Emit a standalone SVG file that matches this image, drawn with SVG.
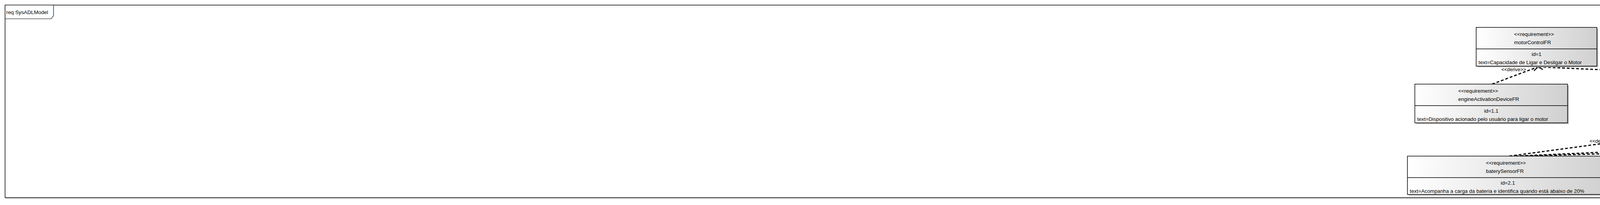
<svg xmlns="http://www.w3.org/2000/svg" width="7787" height="524" viewBox="0 0 7787 524">
<style>
.t{font-family:"Liberation Sans",Arial,sans-serif;font-size:13.3px;fill:#000}
.c{text-anchor:middle}
.box{fill:url(#grad);stroke:#000;stroke-width:1.5}
.sh{fill:#b8b8b8}
.div{stroke:#000;stroke-width:1.5}
.conn{fill:none;stroke:#000;stroke-width:3;stroke-dasharray:7 5}
.lbl{font-family:"Liberation Sans",Arial,sans-serif;font-size:12.5px;fill:#000;text-anchor:middle}
</style>
<defs>
<linearGradient id="grad" x1="0" y1="0" x2="1" y2="0">
<stop offset="0" stop-color="#ffffff"/>
<stop offset="1" stop-color="#d0d0d0"/>
</linearGradient>
<marker id="arr" viewBox="-14 -8 16 16" refX="0" refY="0" markerWidth="16" markerHeight="16" orient="auto" markerUnits="userSpaceOnUse">
<path d="M-13,-6 L0,0 L-13,6" fill="none" stroke="#000" stroke-width="2.5" stroke-dasharray="none"/>
</marker>
</defs>
<rect width="7787" height="524" fill="#fff"/>
<g id="frame">
<rect x="15.5" y="15.5" width="7757" height="492" fill="none" stroke="#c0c0c0" stroke-width="2"/>
<rect x="13" y="13" width="7757" height="492" fill="#fff" stroke="#000" stroke-width="1.5"/>
<path d="M13,13 H137 V40 L131,48 H13 Z" fill="#fff" stroke="#000" stroke-width="1.2"/>
<text class="t" x="16" y="36">req SysADLModel</text>
<rect x="7749" y="20" width="18" height="454" fill="#dcdcdc"/>
<path d="M7749,20 L7767,37 M7767,20 L7749,37" stroke="#c8c8c8" stroke-width="1"/>
<rect x="7749" y="484" width="18" height="18" fill="#dcdcdc"/>
<path d="M7749,484 L7767,502 M7767,484 L7749,502" stroke="#c4c4c4" stroke-width="1"/>
</g>
<g id="connectors">
<path class="conn" d="M3820,215 L3937,171" marker-end="url(#arr)"/>
<path class="conn" d="M5133,224 L3937,171" marker-end="url(#arr)"/>
<path class="conn" d="M3864,399 L4429,323" marker-end="url(#arr)"/>
<path class="conn" d="M4477,399 L4429,323" marker-end="url(#arr)"/>
<path class="conn" d="M5170,399 L4429,323" marker-end="url(#arr)"/>
<path class="conn" d="M4500,399 L5132,323" marker-end="url(#arr)"/>
<path class="conn" d="M5176,399 L5132,323" marker-end="url(#arr)"/>
<path class="conn" d="M3880,399 L5769,314" marker-end="url(#arr)"/>
<path class="conn" d="M4525,399 L5769,314" marker-end="url(#arr)"/>
<path class="conn" d="M5190,399 L5769,314" marker-end="url(#arr)"/>
<path class="conn" d="M6065,399 L5769,314" marker-end="url(#arr)"/>
<path class="conn" d="M6615,399 L5769,314" marker-end="url(#arr)"/>
<path class="conn" d="M3895,399 L6338,330" marker-end="url(#arr)"/>
<path class="conn" d="M4550,399 L6338,330" marker-end="url(#arr)"/>
<path class="conn" d="M5205,399 L6338,330" marker-end="url(#arr)"/>
<path class="conn" d="M6625,399 L6338,330" marker-end="url(#arr)"/>
<text class="lbl" x="3875" y="182">&lt;&lt;derive&gt;&gt;</text>
<text class="lbl" x="4529" y="215">&lt;&lt;derive&gt;&gt;</text>
<text class="lbl" x="4101" y="365">&lt;&lt;derive&gt;&gt;</text>
<text class="lbl" x="4445" y="381">&lt;&lt;derive&gt;&gt;</text>
<text class="lbl" x="4797" y="381">&lt;&lt;derive&gt;&gt;</text>
<text class="lbl" x="4812" y="346">&lt;&lt;derive&gt;&gt;</text>
<text class="lbl" x="4778" y="355">&lt;&lt;derive&gt;&gt;</text>
<text class="lbl" x="5147" y="381">&lt;&lt;derive&gt;&gt;</text>
<text class="lbl" x="5113" y="346">&lt;&lt;derive&gt;&gt;</text>
<text class="lbl" x="5400" y="352">&lt;&lt;derive&gt;&gt;</text>
<text class="lbl" x="5445" y="351">&lt;&lt;derive&gt;&gt;</text>
<text class="lbl" x="5745" y="352">&lt;&lt;derive&gt;&gt;</text>
<text class="lbl" x="5920" y="372">&lt;&lt;derive&gt;&gt;</text>
<text class="lbl" x="6190" y="371">&lt;&lt;derive&gt;&gt;</text>
<text class="lbl" x="6463" y="372">&lt;&lt;derive&gt;&gt;</text>
</g>
<g id="motorControlFR">
<rect class="sh" x="3782" y="73" width="309" height="99"/>
<rect class="box" x="3779" y="70" width="309" height="99"/>
<line class="div" x1="3779" y1="125" x2="4088" y2="125"/>
<text class="t" x="3876" y="92">&lt;&lt;requirement&gt;&gt;</text>
<text class="t" x="3876" y="113">motorControlFR</text>
<text class="t c" x="3933.5" y="143">id=1</text>
<text class="t" x="3785" y="164">text=Capacidade de Ligar e Desligar o Motor</text>
</g>
<g id="engineActivationDeviceFR">
<rect class="sh" x="3625" y="218" width="391" height="99"/>
<rect class="box" x="3622" y="215" width="391" height="99"/>
<line class="div" x1="3622" y1="270" x2="4013" y2="270"/>
<text class="t" x="3733" y="237">&lt;&lt;requirement&gt;&gt;</text>
<text class="t" x="3733" y="258">engineActivationDeviceFR</text>
<text class="t c" x="3817.5" y="288">id=1.1</text>
<text class="t" x="3628" y="309">text=Dispositivo acionado pelo usuário para ligar o motor</text>
</g>
<g id="sensorPerformanceNFR">
<rect class="sh" x="4120" y="227" width="618" height="99"/>
<rect class="box" x="4117" y="224" width="618" height="99"/>
<line class="div" x1="4117" y1="279" x2="4735" y2="279"/>
<text class="t" x="4349" y="246">&lt;&lt;requirement&gt;&gt;</text>
<text class="t" x="4349" y="267">sensorPerformanceNFR</text>
<text class="t c" x="4426" y="297">id=3</text>
<text class="t" x="4123" y="318">text=Os sensores devem ter uma resposta atualização de estado de no máximo 2 segundos</text>
</g>
<g id="AutoTurnOffFR">
<rect class="sh" x="4797" y="227" width="675" height="99"/>
<rect class="box" x="4794" y="224" width="675" height="99"/>
<line class="div" x1="4794" y1="279" x2="5469" y2="279"/>
<text class="t" x="5075" y="246">&lt;&lt;requirement&gt;&gt;</text>
<text class="t" x="5075" y="267">AutoTurnOffFR</text>
<text class="t c" x="5131.5" y="297">id=1.2</text>
<text class="t" x="4800" y="318">text=Desligar o motor se uma das condições energenciais forem satisfeitas por 2 minutos continuos</text>
</g>
<g id="statusDisplayFR">
<rect class="sh" x="5551" y="218" width="447" height="99"/>
<rect class="box" x="5548" y="215" width="447" height="99"/>
<line class="div" x1="5548" y1="270" x2="5995" y2="270"/>
<text class="t" x="5714" y="237">&lt;&lt;requirement&gt;&gt;</text>
<text class="t" x="5714" y="258">statusDisplayFR</text>
<text class="t c" x="5771.5" y="288">id=2</text>
<text class="t" x="5554" y="309">text=Avisa visualmente o motorista com alertas visuais e auditivos</text>
</g>
<g id="beepAlarmFR">
<rect class="sh" x="6193" y="234" width="297" height="99"/>
<rect class="box" x="6190" y="231" width="297" height="99"/>
<line class="div" x1="6190" y1="286" x2="6487" y2="286"/>
<text class="t" x="6281" y="253">&lt;&lt;requirement&gt;&gt;</text>
<text class="t" x="6281" y="274">beepAlarmFR</text>
<text class="t c" x="6338.5" y="304">id=3</text>
<text class="t" x="6196" y="325">text=Faz um barulho para alertar o usuário</text>
</g>
<g id="upgradabilityNFR">
<rect class="sh" x="4472" y="24" width="319" height="141"/>
<rect class="box" x="4469" y="21" width="319" height="141"/>
<line class="div" x1="4469" y1="76" x2="4788" y2="76"/>
<text class="t" x="4568" y="43">&lt;&lt;requirement&gt;&gt;</text>
<text class="t" x="4568" y="64">upgradabilityNFR</text>
<text class="t c" x="4628.5" y="94">id=3.3</text>
<text class="t" x="4474" y="115">text=O sistema deve ser suportar updates de</text>
<text class="t" x="4474" y="136">firmware para possíveis correções no software</text>
<text class="t" x="4474" y="157">em casos de necessidade.</text>
</g>
<g id="securityNFR">
<rect class="sh" x="4909" y="24" width="385" height="162"/>
<rect class="box" x="4906" y="21" width="385" height="162"/>
<line class="div" x1="4906" y1="76" x2="5291" y2="76"/>
<text class="t" x="5041" y="43">&lt;&lt;requirement&gt;&gt;</text>
<text class="t" x="5041" y="64">securityNFR</text>
<text class="t c" x="5098.5" y="94">id=3.5</text>
<text class="t" x="4911" y="115">text=O sistema deve bloquear acessos indevidos ao</text>
<text class="t" x="4911" y="136">sistema e modificações nos componentes dele. Toda a</text>
<text class="t" x="4911" y="157">comunicação de não críticos (não provenientes</text>
<text class="t" x="4911" y="178">diretamente do sensor) deve ser criptografada.</text>
</g>
<g id="compatibilityNFR">
<rect class="sh" x="5328" y="24" width="472" height="120"/>
<rect class="box" x="5325" y="21" width="472" height="120"/>
<line class="div" x1="5325" y1="76" x2="5797" y2="76"/>
<text class="t" x="5502" y="43">&lt;&lt;requirement&gt;&gt;</text>
<text class="t" x="5502" y="64">compatibilityNFR</text>
<text class="t c" x="5561" y="94">id=3.2</text>
<text class="t" x="5330" y="115">text=O sistema deve ser capaz de ser conectado em diferentes</text>
<text class="t" x="5330" y="136">veículos independente do fabricante.</text>
</g>
<g id="baterySensorFR">
<rect class="sh" x="3606" y="402" width="514" height="98"/>
<rect class="box" x="3603" y="399" width="514" height="98"/>
<line class="div" x1="3603" y1="454" x2="4117" y2="454"/>
<text class="t" x="3804" y="421">&lt;&lt;requirement&gt;&gt;</text>
<text class="t" x="3804" y="442">baterySensorFR</text>
<text class="t c" x="3860" y="472">id=2.1</text>
<text class="t" x="3609" y="493">text=Acompanha a carga da bateria e identifica quando está abaixo de 20%</text>
</g>
<g id="fuelSensorFR">
<rect class="sh" x="4209" y="402" width="536" height="98"/>
<rect class="box" x="4206" y="399" width="536" height="98"/>
<line class="div" x1="4206" y1="454" x2="4742" y2="454"/>
<text class="t" x="4420" y="421">&lt;&lt;requirement&gt;&gt;</text>
<text class="t" x="4420" y="442">fuelSensorFR</text>
<text class="t c" x="4474" y="472">id=1.2.1</text>
<text class="t" x="4212" y="493">text=Monitora a quantidade de combustivel e detecta se está abaixo de 2 litros</text>
</g>
<g id="motorTempSensorFR">
<rect class="sh" x="4823" y="402" width="710" height="98"/>
<rect class="box" x="4820" y="399" width="710" height="98"/>
<line class="div" x1="4820" y1="454" x2="5530" y2="454"/>
<text class="t" x="5106" y="421">&lt;&lt;requirement&gt;&gt;</text>
<text class="t" x="5106" y="442">motorTempSensorFR</text>
<text class="t c" x="5175" y="472">id=1.3</text>
<text class="t" x="4826" y="493">text=O sensor deve monitorar continuamente a temperatura e detectar quando excede 100 graus celsius</text>
</g>
<g id="failureDetectionNFT">
<rect class="sh" x="5616" y="402" width="908" height="98"/>
<rect class="box" x="5613" y="399" width="908" height="98"/>
<line class="div" x1="5613" y1="454" x2="6521" y2="454"/>
<text class="t" x="5996" y="421">&lt;&lt;requirement&gt;&gt;</text>
<text class="t" x="5996" y="442">failureDetectionNFT</text>
<text class="t c" x="6067" y="472">id=3.4</text>
<text class="t" x="5619" y="493">text=O sistema deve detectar caso algum sensor ou componente esteja apresentando falhas. E exibir elas ao usuário no status display.</text>
</g>
<g id="alarmPerformanceNFT">
<rect class="sh" x="6554" y="402" width="148" height="98"/>
<rect class="box" x="6551" y="399" width="148" height="98"/>
<line class="div" x1="6551" y1="454" x2="6699" y2="454"/>
<text class="t" x="6552" y="421">&lt;&lt;requirement&gt;&gt;</text>
<text class="t" x="6552" y="442">alarmPerformanceNFT</text>
<text class="t c" x="6625" y="472">id=3.1</text>
<text class="t c" x="6625" y="493">text=</text>
</g>
</svg>
